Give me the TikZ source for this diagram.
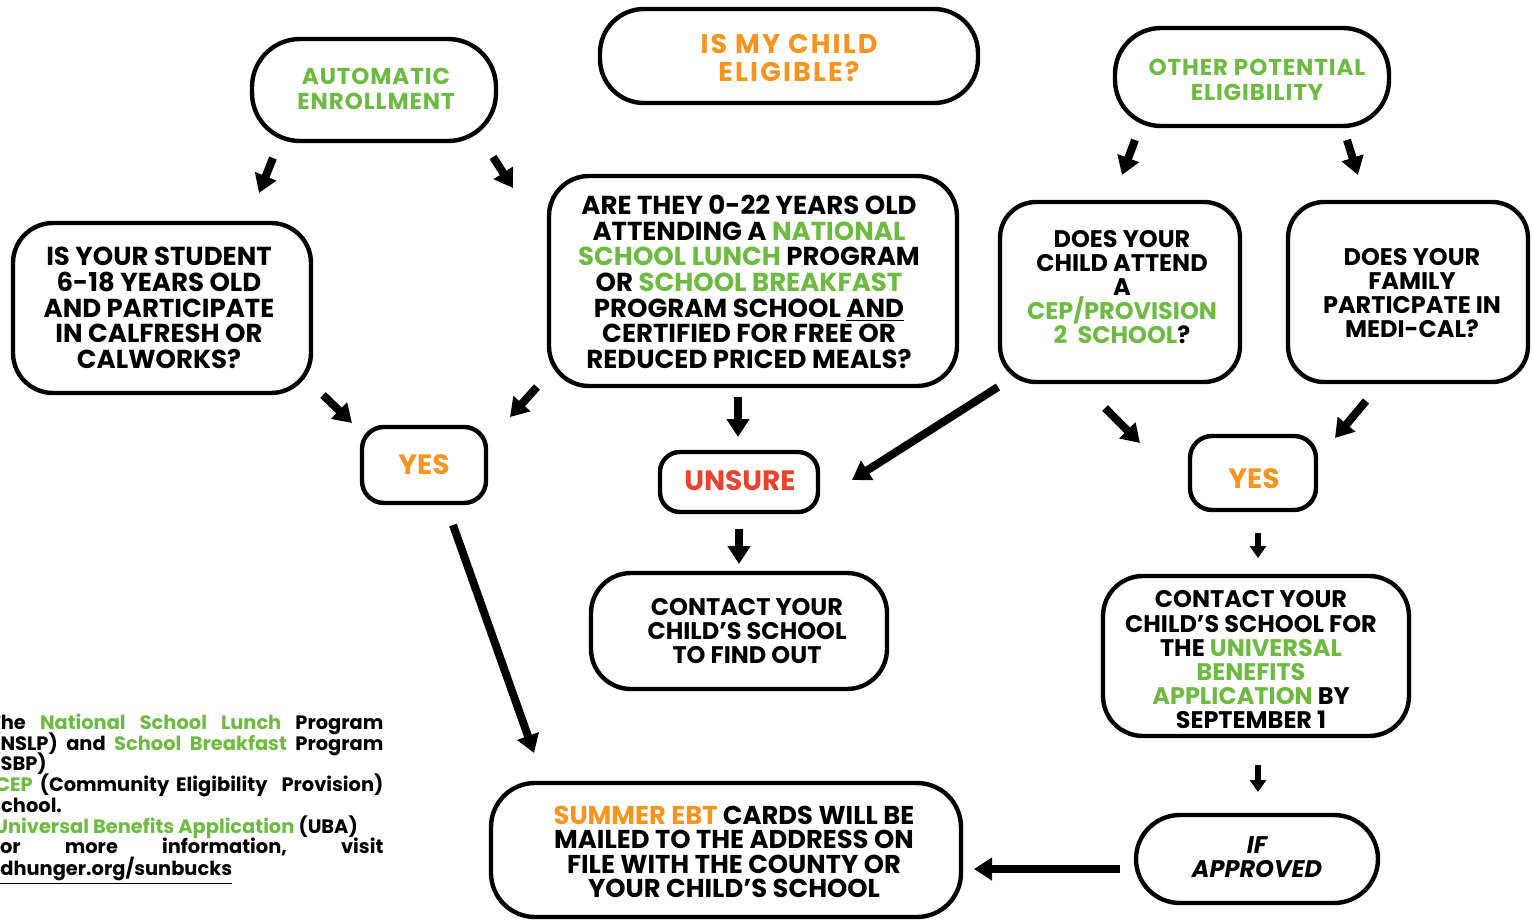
\documentclass[tikz,border=0pt]{standalone}
\usepackage{fontspec}
\setmainfont{Poppins}
\usetikzlibrary{arrows.meta}
\definecolor{cgreen}{RGB}{108,187,64}
\definecolor{corange}{RGB}{247,148,29}
\definecolor{cred}{RGB}{237,65,48}
\newcommand{\grn}[1]{\textcolor{cgreen}{#1}}
\newcommand{\org}[1]{\textcolor{corange}{#1}}
\tikzset{
  box/.style={draw, line width=2.2pt, rounded corners=20pt, inner sep=0pt},
  txt/.style={align=center, inner sep=0pt, font=\fontsize{12}{12.1}\selectfont\bfseries},
  bigtxt/.style={txt, font=\fontsize{13}{12.8}\selectfont\bfseries},
  smalltxt/.style={txt, font=\fontsize{14}{15}\selectfont\bfseries},
  headtxt/.style={txt, font=\fontsize{11.5}{12.3}\selectfont\bfseries\addfontfeatures{LetterSpace=4}},
  arr/.style={line width=4pt, -{Triangle[length=9pt,width=11pt]}},
  sarr/.style={line width=2.6pt, -{Triangle[length=6pt,width=8pt]}},
  legend/.style={anchor=base west, inner sep=0pt, font=\fontsize{9.7}{10.4}\selectfont\bfseries},
}
\begin{document}
\begin{tikzpicture}[x=0.5pt, y=-0.5pt]
\useasboundingbox (0,0) rectangle (1533,921);
\fill[white] (0,0) rectangle (1533,921);

% boxes
\node[box, minimum width=189pt, minimum height=47pt, rounded corners=22pt] (title) at (789,56) {};
\node[txt, font=\fontsize{13.5}{13.6}\selectfont\bfseries\addfontfeatures{LetterSpace=8}] (titlet) at (789,58) {\org{IS MY CHILD}\\\org{ELIGIBLE?}};
\node[box, minimum width=122pt, minimum height=51pt, rounded corners=24pt] (auto) at (374,90) {};
\node[headtxt] (autot) at (376,89) {\grn{AUTOMATIC}\\\grn{ENROLLMENT}};
\node[box, minimum width=137pt, minimum height=49pt, rounded corners=23pt] (other) at (1252,77) {};
\node[headtxt] (othert) at (1257,80) {\grn{OTHER POTENTIAL}\\\grn{ELIGIBILITY}};
\node[box, minimum width=149pt, minimum height=85pt] (q1) at (162,308) {};
\node[bigtxt] (q1t) at (159,308) {IS YOUR STUDENT\\6-18 YEARS OLD\\AND PARTICIPATE\\IN CALFRESH OR\\CALWORKS?};
\node[box, minimum width=204pt, minimum height=105pt] (q2) at (753,281) {};
\node[bigtxt] (q2t) at (749,282) {ARE THEY 0-22 YEARS OLD\\ATTENDING A \grn{NATIONAL}\\\grn{SCHOOL LUNCH} PROGRAM\\OR \grn{SCHOOL BREAKFAST}\\PROGRAM SCHOOL \underline{AND}\\CERTIFIED FOR FREE OR\\REDUCED PRICED MEALS?};
\node[box, minimum width=120pt, minimum height=90pt, rounded corners=18pt] (cep) at (1120,292) {};
\node[txt] (cept) at (1122,287) {DOES YOUR\\CHILD ATTEND\\A\\\grn{CEP/PROVISION}\\\grn{2\ \ SCHOOL}?};
\node[box, minimum width=120pt, minimum height=90pt, rounded corners=18pt] (medi) at (1408,292) {};
\node[txt] (medit) at (1412,293) {DOES YOUR\\FAMILY\\PARTICPATE IN\\MEDI-CAL?};
\node[box, minimum width=62pt, minimum height=38pt, rounded corners=11pt] (yes1) at (424,465) {};
\node[smalltxt] (yes1t) at (424,465) {\org{YES}};
\node[box, minimum width=79pt, minimum height=30pt, rounded corners=10pt] (unsure) at (739,482) {};
\node[smalltxt] (unsuret) at (740,481) {\textcolor{cred}{UNSURE}};
\node[box, minimum width=63pt, minimum height=37pt, rounded corners=11pt] (yes2) at (1253,473) {};
\node[smalltxt] (yes2t) at (1254,479) {\org{YES}};
\node[box, minimum width=148pt, minimum height=58pt] (contact) at (739,631) {};
\node[txt] (contactt) at (747,631) {CONTACT YOUR\\CHILD'S SCHOOL\\TO FIND OUT};
\node[box, minimum width=153pt, minimum height=80pt] (uba) at (1256,656) {};
\node[txt] (ubat) at (1251,660) {CONTACT YOUR\\CHILD'S SCHOOL FOR\\THE \grn{UNIVERSAL}\\\grn{BENEFITS}\\\grn{APPLICATION} BY\\SEPTEMBER 1};
\node[box, minimum width=235pt, minimum height=67pt, rounded corners=22pt] (ebt) at (726,850) {};
\node[bigtxt, font=\fontsize{12.9}{12.2}\selectfont\bfseries] (ebtt) at (734,852) {\org{SUMMER EBT} CARDS WILL BE\\MAILED TO THE ADDRESS ON\\FILE WITH THE COUNTY OR\\YOUR CHILD'S SCHOOL};
\node[box, minimum width=121pt, minimum height=44pt, rounded corners=22pt] (ifap) at (1257,859) {};
\node[txt, font=\fontsize{12}{12}\selectfont\bfseries\itshape] (ifapt) at (1257,857) {IF\\APPROVED};

% arrow end points
\coordinate (a1s) at (273,158); \coordinate (a1e) at (259,193);
\coordinate (a2s) at (493,157); \coordinate (a2e) at (513,188);
\coordinate (a3s) at (323,395); \coordinate (a3e) at (352,423);
\coordinate (a4s) at (537,387); \coordinate (a4e) at (510,417);
\coordinate (a5s) at (738,397); \coordinate (a5e) at (738,437);
\coordinate (a6s) at (998,387); \coordinate (a6e) at (852,480);
\coordinate (a7s) at (1105,408); \coordinate (a7e) at (1140,443);
\coordinate (a8s) at (1366,401); \coordinate (a8e) at (1335,438);
\coordinate (a9s) at (739,529); \coordinate (a9e) at (739,564);
\coordinate (a10s) at (1258,533); \coordinate (a10e) at (1258,558);
\coordinate (a11s) at (1258,765); \coordinate (a11e) at (1258,792);
\coordinate (a12s) at (1120,869); \coordinate (a12e) at (974,869);
\coordinate (a13s) at (453,525); \coordinate (a13e) at (534,753);
\coordinate (a14s) at (1135,140); \coordinate (a14e) at (1122,175);
\coordinate (a15s) at (1347,140); \coordinate (a15e) at (1358,175);

\draw[arr] (a1s) -- (a1e);
\draw[arr] (a2s) -- (a2e);
\draw[arr] (a3s) -- (a3e);
\draw[arr] (a4s) -- (a4e);
\draw[arr] (a5s) -- (a5e);
\draw[arr] (a6s) -- (a6e);
\draw[arr] (a7s) -- (a7e);
\draw[arr] (a8s) -- (a8e);
\draw[arr] (a9s) -- (a9e);
\draw[sarr] (a10s) -- (a10e);
\draw[sarr] (a11s) -- (a11e);
\draw[arr] (a12s) -- (a12e);
\draw[arr] (a13s) -- (a13e);
\draw[arr] (a14s) -- (a14e);
\draw[arr] (a15s) -- (a15e);

% legend
\begin{scope}
\clip (0,0) rectangle (1533,921);
\node[legend] (l1) at (-11,729) {\makebox[197pt][s]{The \grn{National School Lunch} Program}};
\node[legend] (l2) at (-9,750) {\makebox[196pt][s]{(NSLP) and \grn{School Breakfast} Program}};
\node[legend] (l3) at (-9,770) {(SBP)};
\node[legend] (l4) at (-5,791) {\makebox[194pt][s]{\grn{CEP} (Community Eligibility \ Provision)}};
\node[legend] (l5) at (-10,812) {school.};
\node[legend] (l6) at (-6,833) {\grn{Universal Benefits Application} (UBA)};
\node[legend] (l7) at (-11,853) {\makebox[197pt][s]{For more information, visit}};
\node[legend] (l8) at (0,875) {\underline{dhunger.org/sunbucks}};
\end{scope}
\end{tikzpicture}
\end{document}
